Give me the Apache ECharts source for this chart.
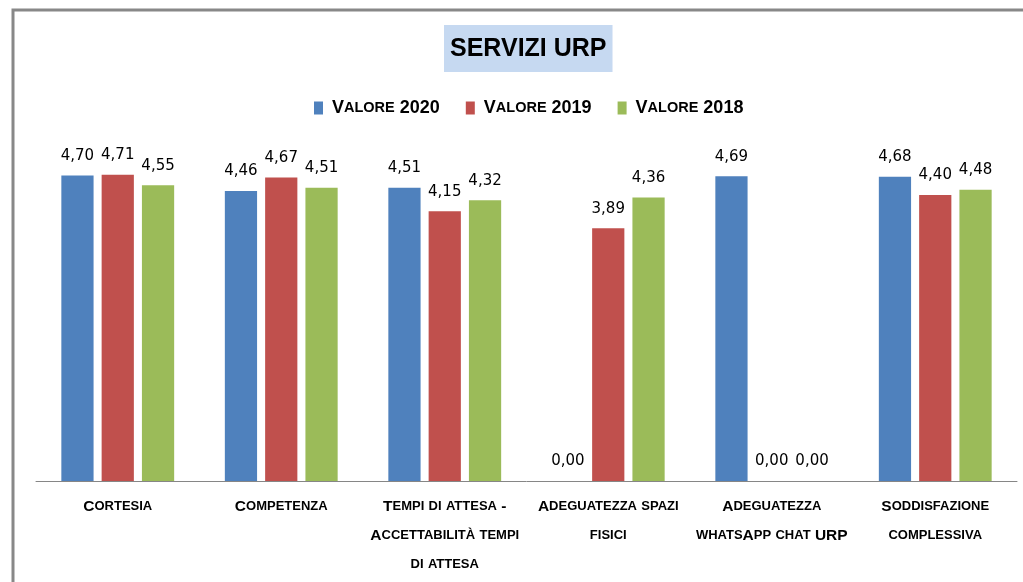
<!DOCTYPE html>
<html>
<head>
<meta charset="utf-8">
<script src="https://cdn.jsdelivr.net/npm/echarts@6/dist/echarts.min.js"></script>
<style>
  html, body { margin: 0; padding: 0; background: #fff; }
  #chart { width: 1023px; height: 582px; }
</style>
</head>
<body>
<div id="chart"></div>
<script>
var categories = [
  'Cortesia',
  'Competenza',
  'Tempi di attesa -\nAccettabilità tempi\ndi attesa',
  'Adeguatezza spazi\nfisici',
  'Adeguatezza\nwhatsApp chat URP',
  'Soddisfazione\ncomplessiva'
];
var valori2020 = [4.70, 4.46, 4.51, 0.00, 4.69, 4.68];
var valori2019 = [4.71, 4.67, 4.15, 3.89, 0.00, 4.40];
var valori2018 = [4.55, 4.51, 4.32, 4.36, 0.00, 4.48];
var seriesNames = ['Valore 2020', 'Valore 2019', 'Valore 2018'];
var colors = ['#4F81BD', '#C0504D', '#9BBB59'];

// lowercase letters become small uppercase, like Excel small caps
function smallCaps(text) {
  return text.split('\n').map(function (line) {
    var out = '', buf = '', cur = null;
    for (var i = 0; i < line.length; i++) {
      var ch = line[i];
      var type = (ch === ch.toLowerCase() && ch !== ch.toUpperCase()) ? 's' : 'b';
      if (type !== cur && buf) { out += '{' + cur + '|' + buf + '}'; buf = ''; }
      cur = type;
      buf += type === 's' ? ch.toUpperCase() : ch;
    }
    if (buf) out += '{' + cur + '|' + buf + '}';
    return out;
  }).join('\n');
}

var chart = echarts.init(document.getElementById('chart'));

var labelStyle = {
  show: true,
  position: 'top',
  distance: 12,
  color: '#000',
  fontFamily: 'DejaVu Sans',
  fontSize: 15,
  formatter: function (p) { return p.value.toFixed(2).replace('.', ','); }
};

function makeSeries(name, data, color) {
  return {
    name: name,
    type: 'bar',
    data: data,
    barGap: '25%',
    barCategoryGap: '31%',
    itemStyle: { color: color },
    label: labelStyle
  };
}

var option = {
  backgroundColor: '#fff',
  animation: false,
  graphic: [{
    type: 'rect',
    shape: { x: 13, y: 10, width: 1100, height: 700 },
    style: { fill: 'none', stroke: '#888', lineWidth: 3 },
    silent: true
  }],
  title: {
    text: 'SERVIZI URP',
    left: 444,
    top: 25,
    backgroundColor: '#C6D9F1',
    padding: [10, 6, 9, 6],
    textStyle: {
      fontFamily: 'Liberation Sans',
      fontWeight: 'bold',
      fontSize: 25,
      lineHeight: 28,
      color: '#000'
    }
  },
  legend: {
    left: 314,
    top: 99,
    padding: 0,
    itemWidth: 9,
    itemHeight: 13,
    itemGap: 26,
    icon: 'rect',
    formatter: function (name) { return smallCaps(name); },
    textStyle: {
      padding: [0, 0, 0, 4],
      rich: {
        b: { fontFamily: 'Liberation Sans', fontWeight: 'bold', fontSize: 18, color: '#000' },
        s: { fontFamily: 'Liberation Sans', fontWeight: 'bold', fontSize: 14.5, color: '#000' }
      }
    },
    data: seriesNames
  },
  grid: { left: 36, right: 6, top: 156, bottom: 101 },
  xAxis: {
    type: 'category',
    data: categories,
    axisLine: { lineStyle: { color: '#868686', width: 1 } },
    axisTick: { show: false },
    axisLabel: {
      interval: 0,
      margin: 11,
      formatter: function (v) { return smallCaps(v); },
      rich: {
        b: { fontFamily: 'Liberation Sans', fontWeight: 'bold', fontSize: 15.5, lineHeight: 29, color: '#000' },
        s: { fontFamily: 'Liberation Sans', fontWeight: 'bold', fontSize: 13, lineHeight: 29, color: '#000' }
      }
    }
  },
  yAxis: {
    type: 'value',
    min: 0,
    max: 5,
    show: false,
    splitLine: { show: false }
  },
  series: [
    makeSeries(seriesNames[0], valori2020, colors[0]),
    makeSeries(seriesNames[1], valori2019, colors[1]),
    makeSeries(seriesNames[2], valori2018, colors[2])
  ]
};

chart.setOption(option);
</script>
</body>
</html>
